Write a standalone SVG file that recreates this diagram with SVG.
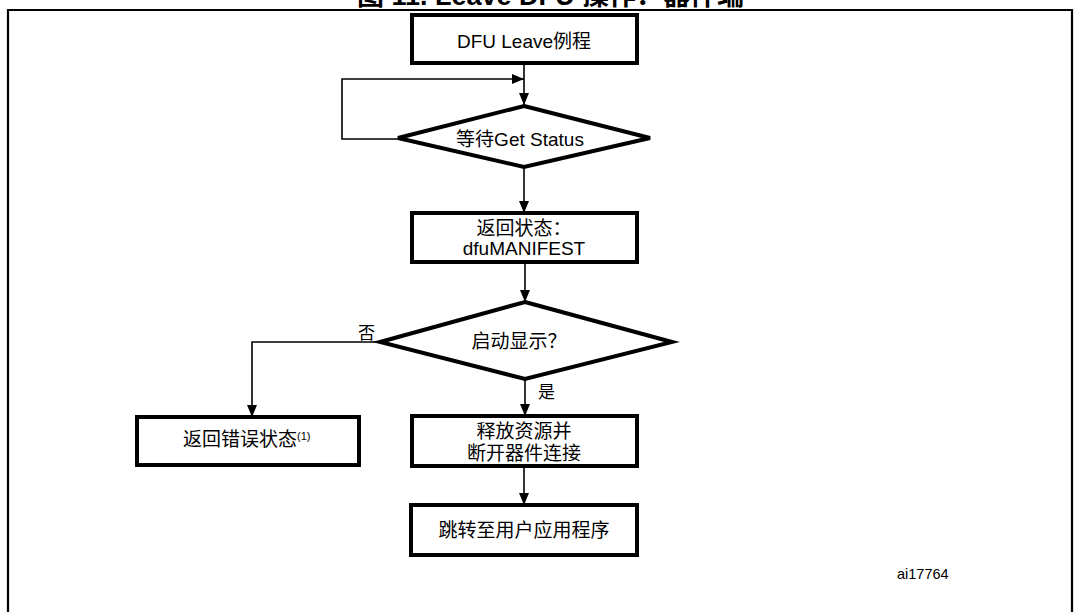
<svg xmlns="http://www.w3.org/2000/svg" width="1074" height="612" viewBox="0 0 1074 612">
<style>
text{font-family:"Liberation Sans","Noto Sans CJK SC",sans-serif;fill:#000}
.lbl{font-size:19px;text-anchor:middle}
.box{fill:#fff;stroke:#000;stroke-width:4}
.con{fill:none;stroke:#000;stroke-width:1.6}
</style>
<defs>
<marker id="ah" viewBox="0 0 12 10" refX="12" refY="5" markerWidth="12" markerHeight="10" markerUnits="userSpaceOnUse" orient="auto">
<path d="M0,0 L12,5 L0,10 z" fill="#000"/>
</marker>
</defs>
<rect width="1074" height="612" fill="#fff"/>
<text x="357" y="5" style="font-size:27px;font-weight:bold">图 11. Leave DFU 操作：器件端</text>
<path d="M8,612 V10 H1072 V612" fill="none" stroke="#000" stroke-width="2.2"/>
<g id="connectors">
<path class="con" d="M524,63 V105" marker-end="url(#ah)"/>
<path class="con" d="M398,139 H342 V79 H524" marker-end="url(#ah)"/>
<path class="con" d="M524,167 V213" marker-end="url(#ah)"/>
<path class="con" d="M525,262 V302" marker-end="url(#ah)"/>
<path class="con" d="M380,342 H252 V417" marker-end="url(#ah)"/>
<path class="con" d="M525,379 V416" marker-end="url(#ah)"/>
<path class="con" d="M524,466 V505" marker-end="url(#ah)"/>
<text x="358" y="339" style="font-size:17px">否</text>
<text x="538" y="398" style="font-size:17px">是</text>
</g>
<g id="start">
<rect class="box" x="412" y="15" width="225" height="48"/>
<text class="lbl" x="524" y="48">DFU Leave例程</text>
</g>
<g id="wait">
<polygon class="box" points="524,106 650,138 524,167 398,138"/>
<text class="lbl" x="520" y="146">等待Get Status</text>
</g>
<g id="state">
<rect class="box" x="412" y="213" width="225" height="49"/>
<text class="lbl" x="524" y="235">返回状态：</text>
<text class="lbl" x="524" y="255">dfuMANIFEST</text>
</g>
<g id="decision">
<polygon class="box" points="525,302 672,342 525,379 380,342"/>
<text class="lbl" x="519" y="348">启动显示？</text>
</g>
<g id="error">
<rect class="box" x="137" y="417" width="222" height="48"/>
<text x="183" y="446" style="font-size:19px">返回错误状态<tspan style="font-size:11px" dy="-6">(1)</tspan></text>
</g>
<g id="release">
<rect class="box" x="412" y="416" width="225" height="50"/>
<text class="lbl" x="524" y="438">释放资源并</text>
<text class="lbl" x="524" y="460">断开器件连接</text>
</g>
<g id="jump">
<rect class="box" x="411" y="505" width="226" height="50"/>
<text class="lbl" x="524" y="537">跳转至用户应用程序</text>
</g>
<text x="897" y="579" style="font-size:14.5px">ai17764</text>
</svg>
